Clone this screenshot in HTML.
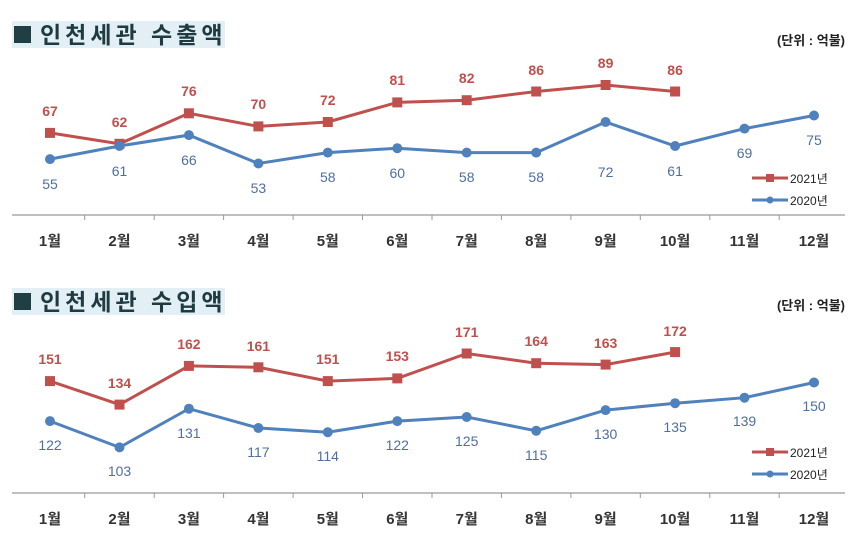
<!DOCTYPE html>
<html><head><meta charset="utf-8"><style>
body{margin:0;background:#fff;width:859px;height:549px;overflow:hidden}
svg{display:block}
text{font-family:"Liberation Sans","Noto Sans CJK KR",sans-serif}
</style></head><body>
<svg width="859" height="549" viewBox="0 0 859 549">
<rect x="12" y="21" width="213" height="27" fill="#e2f0f6"/>
<rect x="14" y="26" width="17" height="17" fill="#1f3f45"/>
<text x="40" y="43" font-size="23" font-weight="bold" fill="#1f3a40" letter-spacing="4">인천세관 수출액</text>
<text x="845" y="45" font-size="13" font-weight="bold" fill="#222" text-anchor="end">(단위 : 억불)</text>
<rect x="12" y="288" width="213" height="27" fill="#e2f0f6"/>
<rect x="14" y="293" width="17" height="17" fill="#1f3f45"/>
<text x="40" y="310" font-size="23" font-weight="bold" fill="#1f3a40" letter-spacing="4">인천세관 수입액</text>
<text x="845" y="310" font-size="13" font-weight="bold" fill="#222" text-anchor="end">(단위 : 억불)</text>

<g stroke="#999" stroke-width="1.3">
<line x1="12" y1="215" x2="845" y2="215"/>
<line x1="12" y1="493" x2="845" y2="493"/>
</g>
<g stroke="#999" stroke-width="1">
<path d="M84.7 215v5M154.2 215v5M223.6 215v5M293.1 215v5M362.5 215v5M432 215v5M501.4 215v5M570.9 215v5M640.3 215v5M709.8 215v5M779.2 215v5"/>
<path d="M84.7 493v5M154.2 493v5M223.6 493v5M293.1 493v5M362.5 493v5M432 493v5M501.4 493v5M570.9 493v5M640.3 493v5M709.8 493v5M779.2 493v5"/>
</g>
<g font-size="15" font-weight="bold" fill="#333" text-anchor="middle">
<text x="50" y="246">1월</text><text x="119.5" y="246">2월</text><text x="188.9" y="246">3월</text><text x="258.4" y="246">4월</text><text x="327.8" y="246">5월</text><text x="397.3" y="246">6월</text><text x="466.7" y="246">7월</text><text x="536.2" y="246">8월</text><text x="605.6" y="246">9월</text><text x="675.1" y="246">10월</text><text x="744.5" y="246">11월</text><text x="814" y="246">12월</text>
<text x="50" y="524">1월</text><text x="119.5" y="524">2월</text><text x="188.9" y="524">3월</text><text x="258.4" y="524">4월</text><text x="327.8" y="524">5월</text><text x="397.3" y="524">6월</text><text x="466.7" y="524">7월</text><text x="536.2" y="524">8월</text><text x="605.6" y="524">9월</text><text x="675.1" y="524">10월</text><text x="744.5" y="524">11월</text><text x="814" y="524">12월</text>
</g>

<polyline fill="none" stroke="#c0504d" stroke-width="3" points="50,132.9 119.5,143.8 188.9,113.3 258.4,126.4 327.8,122 397.3,102.4 466.7,100.2 536.2,91.5 605.6,85 675.1,91.5"/>
<polyline fill="none" stroke="#4f81bd" stroke-width="3" points="50,159.1 119.5,146 188.9,135.1 258.4,163.5 327.8,152.6 397.3,148.2 466.7,152.6 536.2,152.6 605.6,122 675.1,146 744.5,128.6 814,115.5"/>
<g fill="#c0504d">
<rect x="45" y="127.9" width="10" height="10"/><rect x="114.5" y="138.8" width="10" height="10"/><rect x="183.9" y="108.3" width="10" height="10"/><rect x="253.4" y="121.4" width="10" height="10"/><rect x="322.8" y="117" width="10" height="10"/><rect x="392.3" y="97.4" width="10" height="10"/><rect x="461.7" y="95.2" width="10" height="10"/><rect x="531.2" y="86.5" width="10" height="10"/><rect x="600.6" y="80" width="10" height="10"/><rect x="670.1" y="86.5" width="10" height="10"/>
</g>
<g fill="#4f81bd">
<circle cx="50" cy="159.1" r="5"/><circle cx="119.5" cy="146" r="5"/><circle cx="188.9" cy="135.1" r="5"/><circle cx="258.4" cy="163.5" r="5"/><circle cx="327.8" cy="152.6" r="5"/><circle cx="397.3" cy="148.2" r="5"/><circle cx="466.7" cy="152.6" r="5"/><circle cx="536.2" cy="152.6" r="5"/><circle cx="605.6" cy="122" r="5"/><circle cx="675.1" cy="146" r="5"/><circle cx="744.5" cy="128.6" r="5"/><circle cx="814" cy="115.5" r="5"/>
</g>
<g font-size="14" font-weight="bold" fill="#c0504d" text-anchor="middle">
<text x="50" y="116">67</text><text x="119.5" y="127">62</text><text x="188.9" y="96">76</text><text x="258.4" y="109">70</text><text x="327.8" y="105">72</text><text x="397.3" y="85">81</text><text x="466.7" y="83">82</text><text x="536.2" y="75">86</text><text x="605.6" y="68">89</text><text x="675.1" y="75">86</text>
</g>
<g font-size="14" fill="#4f6f9f" text-anchor="middle">
<text x="50" y="189">55</text><text x="119.5" y="176">61</text><text x="188.9" y="165">66</text><text x="258.4" y="193">53</text><text x="327.8" y="182">58</text><text x="397.3" y="178">60</text><text x="466.7" y="182">58</text><text x="536.2" y="182">58</text><text x="605.6" y="177">72</text><text x="675.1" y="176">61</text><text x="744.5" y="158">69</text><text x="814" y="145">75</text>
</g>
<line x1="752" y1="178" x2="788" y2="178" stroke="#c0504d" stroke-width="3"/><rect x="766" y="174" width="8" height="8" fill="#c0504d"/>
<line x1="752" y1="200" x2="788" y2="200" stroke="#4f81bd" stroke-width="3"/><circle cx="770" cy="200" r="3.5" fill="#4f81bd"/>
<g font-size="12" fill="#222"><text x="790" y="183">2021년</text><text x="790" y="205">2020년</text></g>

<polyline fill="none" stroke="#c0504d" stroke-width="3" points="50,381.1 119.5,404.6 188.9,365.9 258.4,367.3 327.8,381.1 397.3,378.4 466.7,353.5 536.2,363.2 605.6,364.6 675.1,352.1"/>
<polyline fill="none" stroke="#4f81bd" stroke-width="3" points="50,421.1 119.5,447.4 188.9,408.7 258.4,428 327.8,432.2 397.3,421.1 466.7,417 536.2,430.8 605.6,410.1 675.1,403.2 744.5,397.7 814,382.5"/>
<g fill="#c0504d">
<rect x="45" y="376.1" width="10" height="10"/><rect x="114.5" y="399.6" width="10" height="10"/><rect x="183.9" y="360.9" width="10" height="10"/><rect x="253.4" y="362.3" width="10" height="10"/><rect x="322.8" y="376.1" width="10" height="10"/><rect x="392.3" y="373.4" width="10" height="10"/><rect x="461.7" y="348.5" width="10" height="10"/><rect x="531.2" y="358.2" width="10" height="10"/><rect x="600.6" y="359.6" width="10" height="10"/><rect x="670.1" y="347.1" width="10" height="10"/>
</g>
<g fill="#4f81bd">
<circle cx="50" cy="421.1" r="5"/><circle cx="119.5" cy="447.4" r="5"/><circle cx="188.9" cy="408.7" r="5"/><circle cx="258.4" cy="428" r="5"/><circle cx="327.8" cy="432.2" r="5"/><circle cx="397.3" cy="421.1" r="5"/><circle cx="466.7" cy="417" r="5"/><circle cx="536.2" cy="430.8" r="5"/><circle cx="605.6" cy="410.1" r="5"/><circle cx="675.1" cy="403.2" r="5"/><circle cx="744.5" cy="397.7" r="5"/><circle cx="814" cy="382.5" r="5"/>
</g>
<g font-size="14" font-weight="bold" fill="#c0504d" text-anchor="middle">
<text x="50" y="364">151</text><text x="119.5" y="388">134</text><text x="188.9" y="349">162</text><text x="258.4" y="351">161</text><text x="327.8" y="364">151</text><text x="397.3" y="361">153</text><text x="466.7" y="337">171</text><text x="536.2" y="346">164</text><text x="605.6" y="348">163</text><text x="675.1" y="336">172</text>
</g>
<g font-size="14" fill="#4f6f9f" text-anchor="middle">
<text x="50" y="450">122</text><text x="119.5" y="476">103</text><text x="188.9" y="438">131</text><text x="258.4" y="457">117</text><text x="327.8" y="461">114</text><text x="397.3" y="450">122</text><text x="466.7" y="446">125</text><text x="536.2" y="460">115</text><text x="605.6" y="439">130</text><text x="675.1" y="432">135</text><text x="744.5" y="426">139</text><text x="814" y="411">150</text>
</g>
<line x1="752" y1="452" x2="788" y2="452" stroke="#c0504d" stroke-width="3"/><rect x="766" y="448" width="8" height="8" fill="#c0504d"/>
<line x1="752" y1="474" x2="788" y2="474" stroke="#4f81bd" stroke-width="3"/><circle cx="770" cy="474" r="3.5" fill="#4f81bd"/>
<g font-size="12" fill="#222"><text x="790" y="457">2021년</text><text x="790" y="479">2020년</text></g>
</svg>
</body></html>
